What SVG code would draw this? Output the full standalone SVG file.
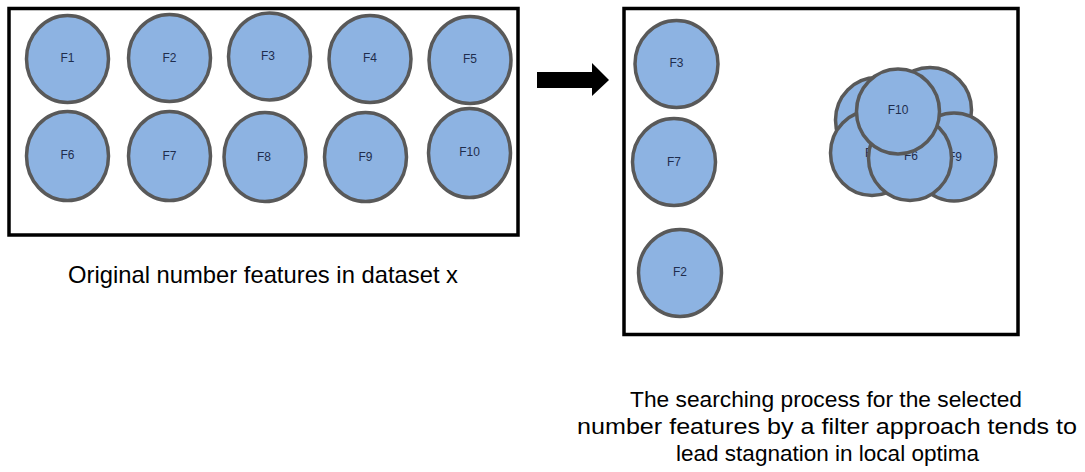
<svg xmlns="http://www.w3.org/2000/svg" width="1085" height="472" viewBox="0 0 1085 472">
  <style>
    .frame { fill: none; stroke: #000; stroke-width: 3.5; }
    .node ellipse { fill: #8DB3E2; stroke: #595959; stroke-width: 3.5; }
    .node text { font-family: "Liberation Sans", Arial, sans-serif; font-size: 12px; fill: #1F2D4D; text-anchor: middle; dominant-baseline: central; }
    .caption { font-family: "Liberation Sans", Arial, sans-serif; fill: #000; text-anchor: middle; }
  </style>
  <rect width="1085" height="472" fill="#fff"/>

  <g id="left-frame">
    <rect class="frame" x="9" y="8.5" width="509" height="226.5"/>
  </g>
  <g id="right-frame">
    <rect class="frame" x="624" y="8.5" width="394" height="326"/>
  </g>

  <g id="F1" class="node"><ellipse cx="67.5" cy="59" rx="41" ry="43.5"/><text x="67.5" y="58">F1</text></g>
  <g id="F2" class="node"><ellipse cx="169.5" cy="58" rx="41" ry="43.5"/><text x="169.5" y="58">F2</text></g>
  <g id="F3" class="node"><ellipse cx="269.5" cy="56.5" rx="41" ry="43.5"/><text x="268" y="56">F3</text></g>
  <g id="F4" class="node"><ellipse cx="370" cy="59" rx="41" ry="43.5"/><text x="370" y="58">F4</text></g>
  <g id="F5" class="node"><ellipse cx="470" cy="60" rx="41" ry="43.5"/><text x="470" y="59">F5</text></g>
  <g id="F6" class="node"><ellipse cx="67.5" cy="156" rx="41" ry="44.5"/><text x="67.5" y="155">F6</text></g>
  <g id="F7" class="node"><ellipse cx="169.5" cy="156" rx="41" ry="44.5"/><text x="169.5" y="156">F7</text></g>
  <g id="F8" class="node"><ellipse cx="265" cy="157" rx="41" ry="44.5"/><text x="264" y="157">F8</text></g>
  <g id="F9" class="node"><ellipse cx="365.5" cy="157" rx="41" ry="44.5"/><text x="365.5" y="157">F9</text></g>
  <g id="F10" class="node"><ellipse cx="469.5" cy="153" rx="41" ry="44.5"/><text x="469.5" y="152">F10</text></g>

  <g id="connectors">
    <polygon points="537,72 592,72 592,63 609,80 592,96 592,88 537,88" fill="#000"/>
  </g>

  <g id="sel-F3" class="node"><ellipse cx="676.5" cy="64" rx="41.5" ry="43.5"/><text x="676.5" y="63">F3</text></g>
  <g id="sel-F7" class="node"><ellipse cx="674" cy="162" rx="41.5" ry="43.5"/><text x="674" y="162">F7</text></g>
  <g id="sel-F2" class="node"><ellipse cx="680" cy="273" rx="41.5" ry="43.5"/><text x="680" y="272">F2</text></g>

  <g id="cluster">
    <g id="cl-a" class="node"><ellipse cx="877" cy="120" rx="41.5" ry="42.5"/></g>
    <g id="cl-b" class="node"><ellipse cx="930" cy="110" rx="41.5" ry="42.5"/></g>
    <g id="cl-F8" class="node"><ellipse cx="872" cy="153" rx="41.5" ry="42.5"/><text x="872" y="153">F8</text></g>
    <g id="cl-F9" class="node"><ellipse cx="954" cy="157" rx="42" ry="44"/><text x="955" y="157">F9</text></g>
    <g id="cl-F6" class="node"><ellipse cx="910" cy="158" rx="41.5" ry="42.5"/><text x="911" y="156">F6</text></g>
    <g id="cl-F10" class="node"><ellipse cx="898" cy="111.5" rx="41.5" ry="42.5"/><text x="898" y="110">F10</text></g>
  </g>

  <g id="captions">
    <text class="caption" x="263" y="283" font-size="23.8" textLength="390" lengthAdjust="spacingAndGlyphs">Original number features in dataset x</text>
    <text class="caption" x="826" y="406.5" font-size="22.5" textLength="392" lengthAdjust="spacingAndGlyphs">The searching process for the selected</text>
    <text class="caption" x="827" y="434" font-size="22.5" textLength="500" lengthAdjust="spacingAndGlyphs">number features by a filter approach tends to</text>
    <text class="caption" x="827.5" y="461" font-size="22.5" textLength="303" lengthAdjust="spacingAndGlyphs">lead stagnation in local optima</text>
  </g>
</svg>
